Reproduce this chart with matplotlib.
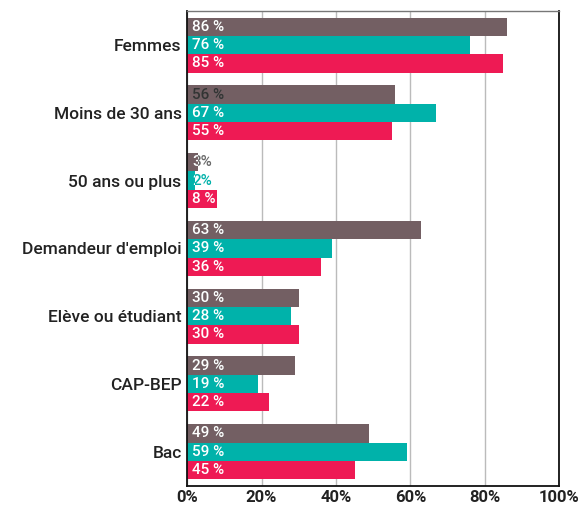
import matplotlib
matplotlib.use("Agg")
import matplotlib.pyplot as plt
import numpy as np

plt.rcParams['font.family'] = ['Roboto', 'DejaVu Sans']

categories = ['Femmes', 'Moins de 30 ans', '50 ans ou plus', "Demandeur d'emploi",
              'Elève ou étudiant', 'CAP-BEP', 'Bac']
serie_1 = [86, 56, 3, 63, 30, 29, 49]
serie_2 = [76, 67, 2, 39, 28, 19, 59]
serie_3 = [85, 55, 8, 36, 30, 22, 45]
labels_1 = ['86 %', '56 %', '3%', '63 %', '30 %', '29 %', '49 %']
labels_2 = ['76 %', '67 %', '2%', '39 %', '28 %', '19 %', '59 %']
labels_3 = ['85 %', '55 %', '8 %', '36 %', '30 %', '22 %', '45 %']

colors = ['#735f63', '#00b2aa', '#ee1a54']
outside_colors = ['#6a6a6a', '#00b2aa', '#ee1a54']

fig = plt.figure(figsize=(5.83, 5.09), dpi=100)
ax = fig.add_axes([0.321, 0.046, 0.638, 0.932])

y = np.arange(len(categories))
h = 0.27
series = [serie_1, serie_2, serie_3]
labels = [labels_1, labels_2, labels_3]

for i, (vals, labs) in enumerate(zip(series, labels)):
    bars = ax.barh(y + (i - 1) * h, vals, height=h, color=colors[i], zorder=2)
    for bar, lab in zip(bars, labs):
        cy = bar.get_y() + bar.get_height() / 2
        # part of the text that sticks out of a short bar
        ax.annotate(lab, (0, cy), xytext=(3.5, 0), textcoords='offset points',
                    va='center', ha='left', fontsize=11, fontweight='medium',
                    color=outside_colors[i], zorder=3)
        txt_color = '#333333' if lab == '56 %' else 'white'
        t = ax.annotate(lab, (0, cy), xytext=(3.5, 0), textcoords='offset points',
                        va='center', ha='left', fontsize=11, fontweight='medium',
                        color=txt_color, zorder=4)
        t.set_clip_path(bar)

ax.set_xlim(0, 100)
ax.set_ylim(6.5, -0.5)
ax.set_yticks(y)
ax.set_yticklabels(categories, fontsize=12.5, fontweight='medium', color='#222222')
ax.set_xticks([0, 20, 40, 60, 80, 100])
ax.set_xticklabels(['0%', '20%', '40%', '60%', '80%', '100%'], fontsize=12,
                   fontweight='bold', color='#222222')
ax.tick_params(length=0, pad=4)
ax.tick_params(axis='x', pad=3)
ax.xaxis.grid(True, color='#bbbbbb', linewidth=1, zorder=0)
ax.set_axisbelow(True)
for s in ['left', 'bottom', 'right']:
    ax.spines[s].set_color('#111111')
    ax.spines[s].set_linewidth(1.3)
ax.spines['top'].set_color('#777777')
ax.spines['top'].set_linewidth(1)

fig.savefig('out.png', dpi=100)
